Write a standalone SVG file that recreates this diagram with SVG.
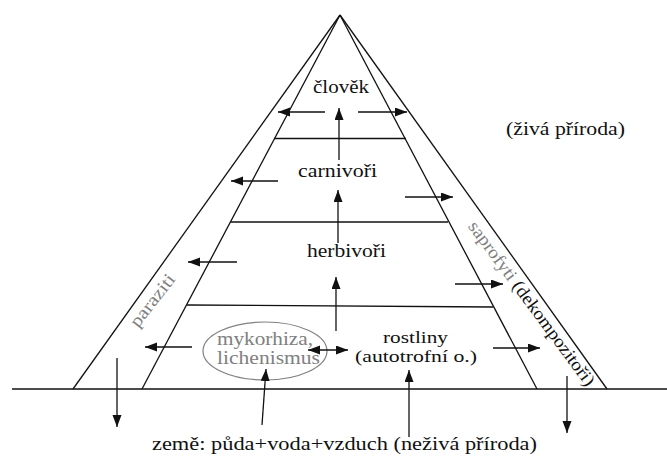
<svg xmlns="http://www.w3.org/2000/svg" width="667" height="457" viewBox="0 0 667 457">
<style>
.ln{stroke:#111;stroke-width:1.3;fill:none}
.ar{stroke:#111;stroke-width:1.3;fill:none;marker-end:url(#ah)}
.t{font-size:18px;fill:#111;text-anchor:middle}
.s{font-size:17px}
.g{fill:#808080}
</style>
<defs>
<marker id="ah" markerUnits="userSpaceOnUse" markerWidth="13" markerHeight="10" refX="12" refY="4.5" orient="auto-start-reverse">
<path d="M0,0 L12,4.5 L0,9 z" fill="#111"/>
</marker>
</defs>
<rect width="667" height="457" fill="#fff"/>
<g id="pyramid">
<line class="ln" x1="12" y1="389" x2="667" y2="389"/>
<line class="ln" x1="73" y1="389" x2="340" y2="15"/>
<line class="ln" x1="142" y1="389" x2="340" y2="15"/>
<line class="ln" x1="537" y1="389" x2="340" y2="15"/>
<line class="ln" x1="607" y1="389" x2="340" y2="15"/>
<line class="ln" x1="274" y1="138.5" x2="406" y2="138.5"/>
<line class="ln" x1="231" y1="222" x2="448" y2="222"/>
<line class="ln" x1="187" y1="305" x2="493" y2="307"/>
</g>
<g font-family="Liberation Serif, Times New Roman, DejaVu Serif, serif">
<g id="n-clovek"><text class="t" x="341" y="93" textLength="56" lengthAdjust="spacingAndGlyphs">člověk</text></g>
<g id="n-carnivori"><text class="t" x="337.5" y="177" textLength="79" lengthAdjust="spacingAndGlyphs">carnivoři</text></g>
<g id="n-herbivori"><text class="t" x="346.5" y="257" textLength="79" lengthAdjust="spacingAndGlyphs">herbivoři</text></g>
<g id="n-mykorhiza">
<ellipse cx="265" cy="351" rx="62" ry="29" fill="none" stroke="#808080" stroke-width="1.2"/>
<text class="t g" x="265" y="345" textLength="96" lengthAdjust="spacingAndGlyphs">mykorhiza,</text>
<text class="t g" x="268.5" y="364" textLength="103" lengthAdjust="spacingAndGlyphs">lichenismus</text>
</g>
<g id="n-rostliny">
<text class="t s" x="415.5" y="343" textLength="65" lengthAdjust="spacingAndGlyphs">rostliny</text>
<text class="t s" x="416" y="362" textLength="122" lengthAdjust="spacingAndGlyphs">(autotrofní o.)</text>
</g>
<g id="n-zeme"><text class="t" x="344.5" y="450" textLength="385" lengthAdjust="spacingAndGlyphs">země: půda+voda+vzduch (neživá příroda)</text></g>
<g id="n-ziva"><text class="t" x="565.5" y="135" textLength="119" lengthAdjust="spacingAndGlyphs">(živá příroda)</text></g>
<g id="n-paraziti"><text class="t g" transform="translate(157,304) rotate(-52)" x="0" y="0" textLength="62" lengthAdjust="spacingAndGlyphs">paraziti</text></g>
<g id="n-saprofyti"><text class="t" transform="translate(527,307) rotate(53.5)" x="0" y="0" textLength="200" lengthAdjust="spacingAndGlyphs"><tspan class="g">saprofyti </tspan>(dekompozitoři)</text></g>
</g>
<g id="connectors">
<line class="ar" x1="325" y1="112" x2="278" y2="112"/>
<line class="ar" x1="358" y1="112" x2="407" y2="112"/>
<line class="ar" x1="339" y1="160" x2="339" y2="108"/>
<line class="ar" x1="278" y1="181" x2="231" y2="181"/>
<line class="ar" x1="405" y1="197" x2="453" y2="197"/>
<line class="ar" x1="338" y1="243" x2="338" y2="190"/>
<line class="ar" x1="237" y1="262" x2="188" y2="262"/>
<line class="ar" x1="455" y1="284" x2="503" y2="284"/>
<line class="ar" x1="336" y1="331" x2="336" y2="277"/>
<line class="ar" x1="192" y1="347" x2="145" y2="347"/>
<line class="ar" x1="308" y1="350" x2="348" y2="350" style="marker-start:url(#ah)"/>
<line class="ar" x1="493" y1="348" x2="540" y2="348"/>
<line class="ar" x1="262" y1="425" x2="266" y2="369"/>
<line class="ar" x1="409" y1="437" x2="409" y2="370"/>
<line class="ar" x1="117" y1="358" x2="117" y2="427"/>
<line class="ar" x1="567" y1="376" x2="567" y2="433"/>
</g>
</svg>
